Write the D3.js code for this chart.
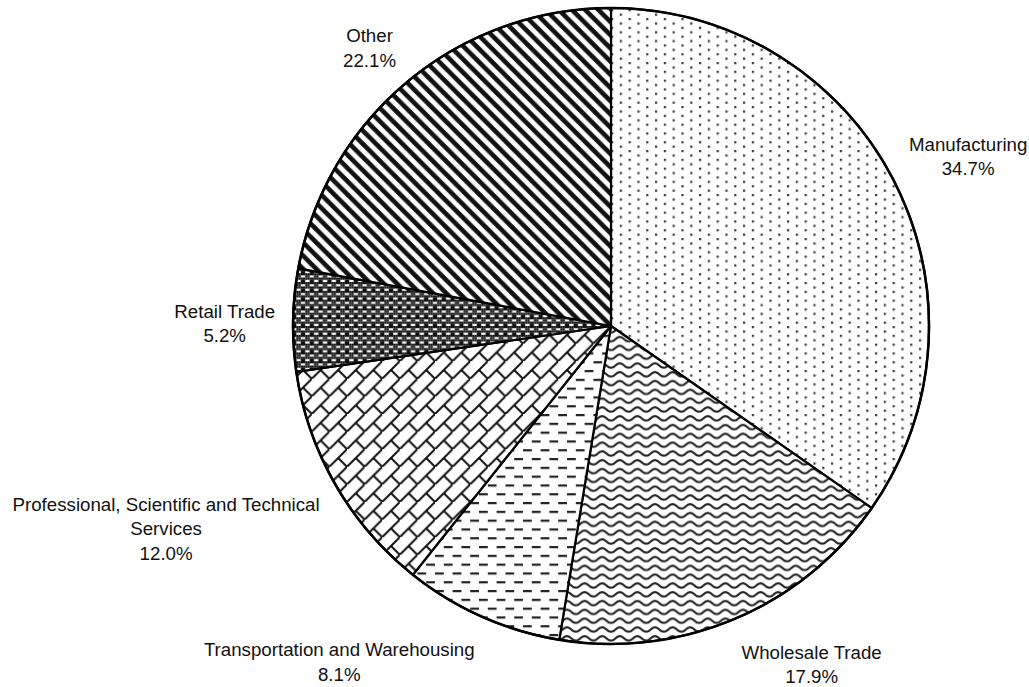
<!DOCTYPE html>
<html>
<head>
<meta charset="utf-8">
<script src="https://cdn.jsdelivr.net/npm/d3@7"></script>
<style>
  body { margin: 0; background: #fff; }
  text { font-family: "Liberation Sans", Arial, sans-serif; font-size: 18.7px; fill: #111; }
</style>
</head>
<body>
<svg id="chart" width="1029" height="687"></svg>
<script>
"use strict";

// ─── Data ────────────────────────────────────────────────────────────────────
const categories = [
  "Manufacturing",
  "Wholesale Trade",
  "Transportation and Warehousing",
  "Professional, Scientific and Technical Services",
  "Retail Trade",
  "Other",
];
const shares = [34.7, 17.9, 8.1, 12.0, 5.2, 22.1];
// how each category name wraps in its label
const labelLines = [
  ["Manufacturing"],
  ["Wholesale Trade"],
  ["Transportation and Warehousing"],
  ["Professional, Scientific and Technical", "Services"],
  ["Retail Trade"],
  ["Other"],
];
const fills = ["dots", "wave", "dash", "brick", "trellis", "stripe"];

// ─── Layout ──────────────────────────────────────────────────────────────────
const W = 1029, H = 687;
const cx = 611, cy = 326, R = 318;
const LABEL_GAP = 18;
const LABEL_DROP = 5;   // Excel sits its labels a touch low
const LINE_H = 24.5;
const k = 2.2; // size of one pattern "pixel"

const svg = d3.select("#chart");
const defs = svg.append("defs");

// Excel-like hatch fills, built as svg patterns.
function pattern(id, w, h) {
  const p = defs.append("pattern").attr("id", id)
    .attr("patternUnits", "userSpaceOnUse")
    .attr("width", w).attr("height", h);
  p.append("rect").attr("width", w).attr("height", h).attr("fill", "#fff");
  return p;
}

// 10% dots
{
  const p = pattern("dots", 8 * k, 4 * k);
  p.append("rect").attr("x", 0).attr("y", 0).attr("width", k).attr("height", k).attr("fill", "#3a3a3a");
  p.append("rect").attr("x", 4 * k).attr("y", 2 * k).attr("width", k).attr("height", k).attr("fill", "#3a3a3a");
}
// wave
{
  const s = 8 * k, h = 4 * k;
  const p = pattern("wave", s, h);
  p.append("path")
    .attr("d", `M0,${h * 0.75} C${s * 0.25},${h * 0.75} ${s * 0.25},${h * 0.25} ${s / 2},${h * 0.25} C${s * 0.75},${h * 0.25} ${s * 0.75},${h * 0.75} ${s},${h * 0.75}`)
    .attr("fill", "none").attr("stroke", "#222").attr("stroke-width", k);
}
// dashed horizontal
{
  const s = 8 * k;
  const p = pattern("dash", s, s);
  p.append("rect").attr("x", 0).attr("y", 0).attr("width", 4 * k).attr("height", k).attr("fill", "#222");
  p.append("rect").attr("x", 4 * k).attr("y", 4 * k).attr("width", 4 * k).attr("height", k).attr("fill", "#222");
}
// diagonal brick
{
  const s = 8 * k;
  const p = pattern("brick", s, s);
  p.append("path")
    .attr("d", `M-2,${s + 2} L${s + 2},-2 M${s / 2},${s / 2} L${s},${s}`)
    .attr("fill", "none").attr("stroke", "#111").attr("stroke-width", 2);
}
// trellis (dark weave)
{
  const bits = ["1111", "0110", "1111", "1001"];
  const p = pattern("trellis", 4 * k, 4 * k);
  bits.forEach((row, j) => {
    [...row].forEach((b, i) => {
      if (b === "1") p.append("rect").attr("x", i * k).attr("y", j * k)
        .attr("width", k).attr("height", k).attr("fill", "#111");
    });
  });
}
// wide downward diagonal
{
  const s = 6 * k;
  const p = pattern("stripe", s, s);
  p.append("path")
    .attr("d", `M${-s},0 L${s},${2 * s} M0,0 L${s},${s} M0,${-s} L${2 * s},${s} M${-s},${-s} L${s},${s}`)
    .attr("fill", "none").attr("stroke", "#111").attr("stroke-width", 4.6);
}

// ─── Pie ─────────────────────────────────────────────────────────────────────
const pie = d3.pie().sort(null).value(d => d)
  .startAngle(0).endAngle(2 * Math.PI);
const arcs = pie(shares);
const arc = d3.arc().innerRadius(0).outerRadius(R);

const g = svg.append("g").attr("transform", `translate(${cx},${cy})`);

g.selectAll("path.slice")
  .data(arcs)
  .join("path")
  .attr("class", "slice")
  .attr("d", arc)
  .attr("fill", (d, i) => `url(#${fills[i]})`)
  .attr("stroke", "#000")
  .attr("stroke-width", 2.2)
  .attr("stroke-linejoin", "round");

g.append("circle").attr("r", R)
  .attr("fill", "none").attr("stroke", "#000").attr("stroke-width", 2.5);

// ─── Labels ──────────────────────────────────────────────────────────────────
const clamp = (v) => Math.max(-1, Math.min(1, v));

arcs.forEach((d, i) => {
  const mid = (d.startAngle + d.endAngle) / 2;
  const dx = Math.sin(mid), dy = -Math.cos(mid);
  const px = (R + LABEL_GAP) * dx, py = (R + LABEL_GAP) * dy;

  const lines = labelLines[i].concat([`${shares[i].toFixed(1)}%`]);
  const t = g.append("text").attr("text-anchor", "middle");
  lines.forEach((ln, j) => {
    t.append("tspan").attr("x", 0).attr("y", j * LINE_H).text(ln);
  });
  const w = t.node().getBBox().width;
  const h = lines.length * LINE_H;

  const lx = px + (w / 2) * clamp(dx / 0.3);
  const ly = py + (h / 2) * clamp(dy / 0.6) + LABEL_DROP;
  const top = ly - h / 2;
  t.attr("transform", `translate(${lx},${top + LINE_H * 0.75})`);
});
</script>
</body>
</html>
